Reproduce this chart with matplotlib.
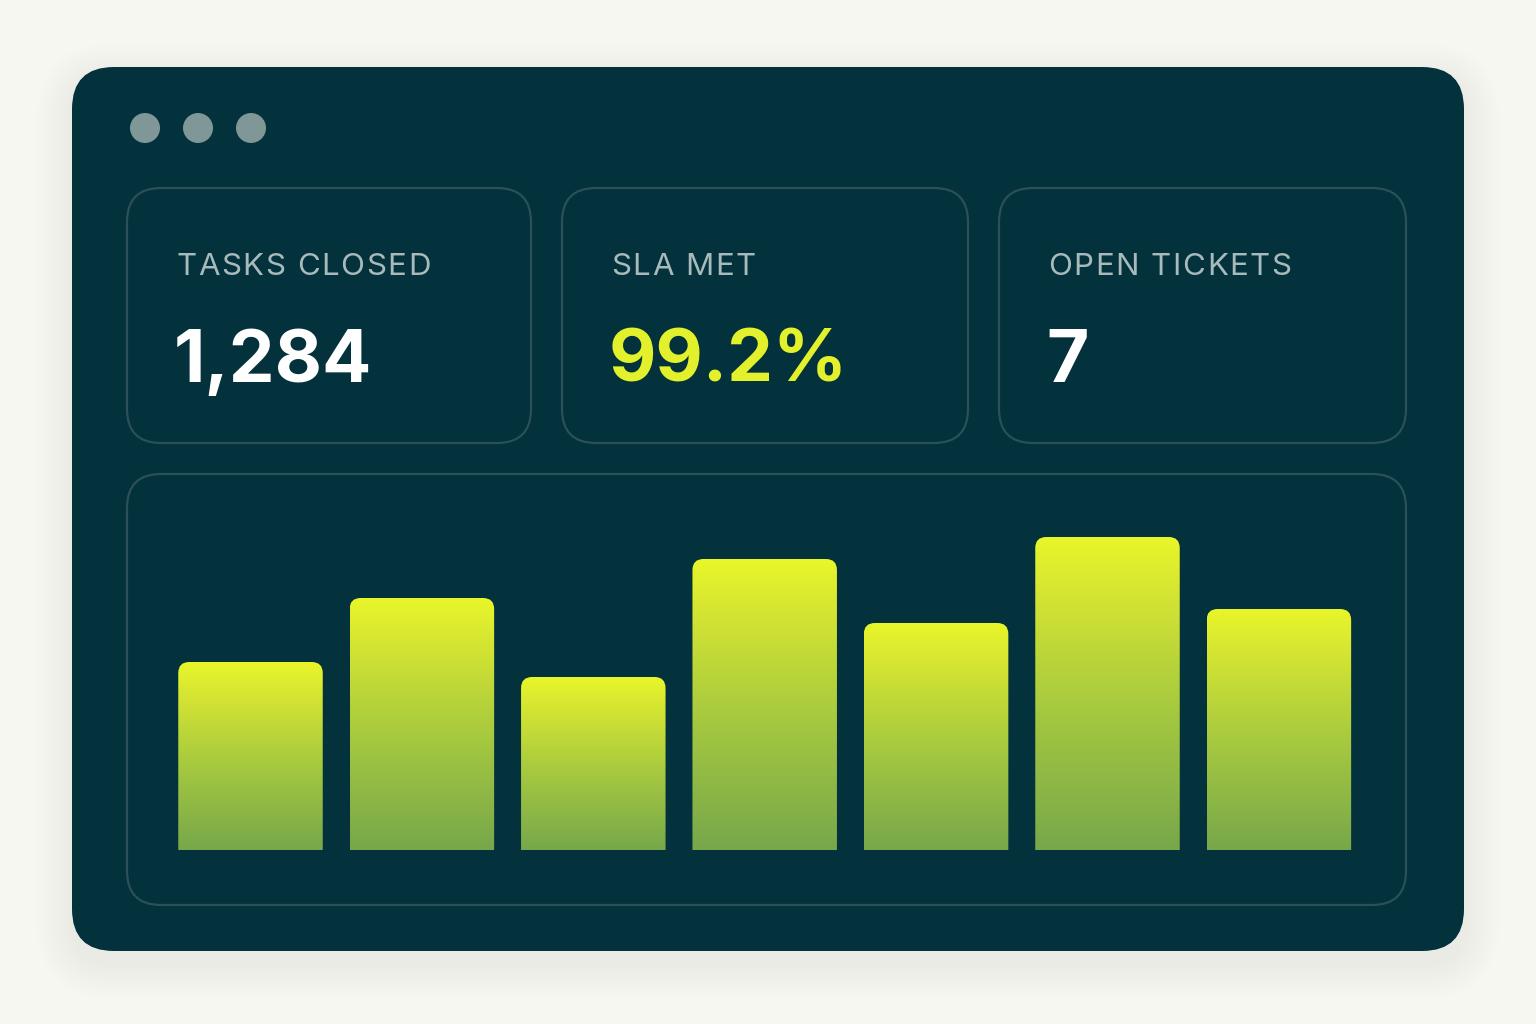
import numpy as np
import matplotlib
matplotlib.use("Agg")
import matplotlib.pyplot as plt
from matplotlib.patches import FancyBboxPatch, Circle
from matplotlib.path import Path
from matplotlib.transforms import IdentityTransform
from matplotlib.colors import LinearSegmentedColormap

plt.rcParams["font.family"] = ["Inter", "DejaVu Sans"]

# data
kpi_labels = ["TASKS CLOSED", "SLA MET", "OPEN TICKETS"]
kpi_values = ["1,284", "99.2%", "7"]
kpi_colors = ["#ffffff", "#e3f12c", "#ffffff"]
bar_values = [188, 252, 173, 291, 227, 313, 241]

PAGE = "#f7f7f2"
CARD = "#03313c"
EDGE = "#2c5058"
LABEL = "#a8babb"
DOT = "#7f9797"

W, H = 1536, 1024
fig = plt.figure(figsize=(W / 100, H / 100), dpi=100, facecolor=PAGE)
bg = fig.add_axes([0, 0, 1, 1])
bg.set_xlim(0, W)
bg.set_ylim(H, 0)
bg.axis("off")

# soft shadow under the card
for i in range(12):
    grow = 3 + i * 3
    sh = FancyBboxPatch((72 - grow, 67 - grow + 12), 1392 + 2 * grow, 884 + 2 * grow,
                        boxstyle=f"round,pad=0,rounding_size={42 + grow}",
                        fc="#000000", ec="none", alpha=0.0025, zorder=1)
    bg.add_patch(sh)

card = FancyBboxPatch((72, 67), 1392, 884, boxstyle="round,pad=0,rounding_size=42",
                      fc=CARD, ec="none", zorder=2)
bg.add_patch(card)

for cx in (145, 198, 251):
    bg.add_patch(Circle((cx, 128), 15, fc=DOT, ec="none", zorder=3))

# kpi boxes
box_x = [127, 562, 999]
box_w = [404, 406, 407]
for bx, bw in zip(box_x, box_w):
    bg.add_patch(FancyBboxPatch((bx, 188), bw, 255, boxstyle="round,pad=0,rounding_size=34",
                                fc="none", ec=EDGE, lw=1.6, zorder=3))

# chart box
bg.add_patch(FancyBboxPatch((127, 474), 1279, 431, boxstyle="round,pad=0,rounding_size=34",
                            fc="none", ec=EDGE, lw=1.6, zorder=3))

renderer = fig.canvas.get_renderer()


def tracked_text(ax, x, y, s, tracking, **kw):
    # draw characters one by one with extra spacing (letter-spacing)
    for ch in s:
        t = ax.text(x, y, ch, **kw)
        bb = t.get_window_extent(renderer=renderer)
        if ch == " ":
            adv = kw.get("fontsize", 10) * 0.28 / 0.72
        else:
            adv = bb.width
        x += adv + tracking


for bx, lab, val, col in zip(box_x, kpi_labels, kpi_values, kpi_colors):
    tx = bx + 49
    tracked_text(bg, tx, 275, lab, 1.6, fontsize=22.5, color=LABEL, va="baseline",
                 ha="left", zorder=4)
    bg.text(tx - 2, 382, val, fontsize=52.5, fontweight="bold", color=col,
            va="baseline", ha="left", zorder=4)

# bar chart area
step = 171.4
left_px = 250.5 - step / 2
bottom_px = 850
ax = fig.add_axes([left_px / W, (H - bottom_px) / H, 7 * step / W, 350 / H])
ax.set_xlim(-0.5, 6.5)
ax.set_ylim(0, 350)
ax.axis("off")
ax.patch.set_alpha(0)

x = np.arange(len(bar_values))
bars = ax.bar(x, bar_values, width=0.843, color="none", edgecolor="none")

cmap = LinearSegmentedColormap.from_list(
    "lime", [(0.0, "#77a74b"), (0.45, "#a6c93f"), (0.8, "#d2e333"), (1.0, "#e9f62a")])
grad = np.linspace(0, 1, 256).reshape(-1, 1)

r = 11
for rect in bars:
    x0, y0 = rect.get_x(), rect.get_y()
    x1, y1 = x0 + rect.get_width(), y0 + rect.get_height()
    (px0, py0), (px1, py1) = ax.transData.transform([(x0, y0), (x1, y1)])
    verts = [(px0, py0), (px0, py1 - r), (px0, py1), (px0 + r, py1),
             (px1 - r, py1), (px1, py1), (px1, py1 - r), (px1, py0), (px0, py0)]
    codes = [Path.MOVETO, Path.LINETO, Path.CURVE3, Path.CURVE3,
             Path.LINETO, Path.CURVE3, Path.CURVE3, Path.LINETO, Path.CLOSEPOLY]
    clip = Path(verts, codes)
    im = ax.imshow(grad, cmap=cmap, origin="lower", aspect="auto",
                   extent=(x0, x1, y0, y1), interpolation="bicubic", zorder=3)
    im.set_clip_path(clip, IdentityTransform())

ax.set_xlim(-0.5, 6.5)
ax.set_ylim(0, 350)

fig.savefig("out.png", dpi=100, facecolor=PAGE)
